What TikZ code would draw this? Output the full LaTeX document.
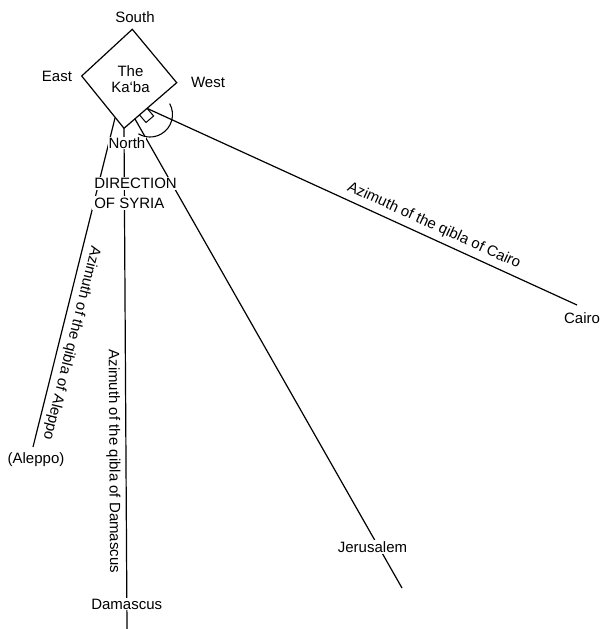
\documentclass[tikz,border=0pt]{standalone}
\usepackage{fontspec}
\setmainfont{Liberation Sans}
\begin{document}
\begin{tikzpicture}[x=1pt,y=-1pt,
  line width=1.2pt, line join=miter,
  txt/.style={font=\fontsize{15}{16.6}\selectfont, inner sep=1pt},
  mask/.style={txt, fill=white},
  ray/.style={line width=1.2pt},
  azlabel/.style={txt, sloped, allow upside down}]
\useasboundingbox (0,0) rectangle (600,629);
% Ka'ba corners
\coordinate (ks) at (132.3,29.3);
\coordinate (kw) at (176.7,82.7);
\coordinate (kn) at (124,128.3);
\coordinate (ke) at (81.7,76);
% ray ends
\coordinate (aS) at (115,118);
\coordinate (aE) at (33,447);
\coordinate (dE) at (127,629);
\coordinate (jS) at (135,119);
\coordinate (jE) at (402,588);
% right angle marker
\coordinate (ra) at (139.5,114.9);
\coordinate (rb) at (147.1,108.4);
\coordinate (rc) at (153.6,116);
\coordinate (rd) at (146,122.5);
\coordinate (cE) at (577,305);
\coordinate (arcC) at (150,114.5);

\draw (ks) -- (kw) -- (kn) -- (ke) -- cycle;
\node[txt, align=center] (kaaba) at (130.5,79) {The\\Ka‘ba};
\node[txt] (south) at (135,17) {South};
\node[txt] (east) at (57,76) {East};
\node[txt] (west) at (208,82) {West};

\draw[ray] (aS) -- (aE)
  node[azlabel, pos=0.675, above=3.5pt] (azA) {Azimuth of the qibla of Aleppo};
\draw[ray] (kn) -- (dE)
  node[azlabel, pos=0.665, below=4pt] (azD) {Azimuth of the qibla of Damascus};
\draw[ray] (jS) -- (jE);
\draw[ray] (rb) -- (cE)
  node[azlabel, pos=0.655, above=4pt] (azC) {Azimuth of the qibla of Cairo};

\draw[line width=1pt] (rb) -- (rc) -- (rd) -- (ra);
\draw[line width=1.1pt] ([shift={(29:22.5pt)}]arcC) arc[start angle=29, end angle=-121, radius=22.5pt];

\node[mask, inner sep=0.5pt] (north) at (127,143.3) {North};
\node[mask] (dir1) at (135.5,183.5) {DIRECTION};
\node[mask, inner sep=2pt] (dir2) at (129.3,203) {OF SYRIA};
\node[txt] (aleppo) at (36,459.5) {(Aleppo)};
\node[mask] (damascus) at (126.7,604) {Damascus};
\node[mask] (jerusalem) at (372.5,547) {Jerusalem};
\node[txt] (cairo) at (582,318) {Cairo};
\end{tikzpicture}
\end{document}
